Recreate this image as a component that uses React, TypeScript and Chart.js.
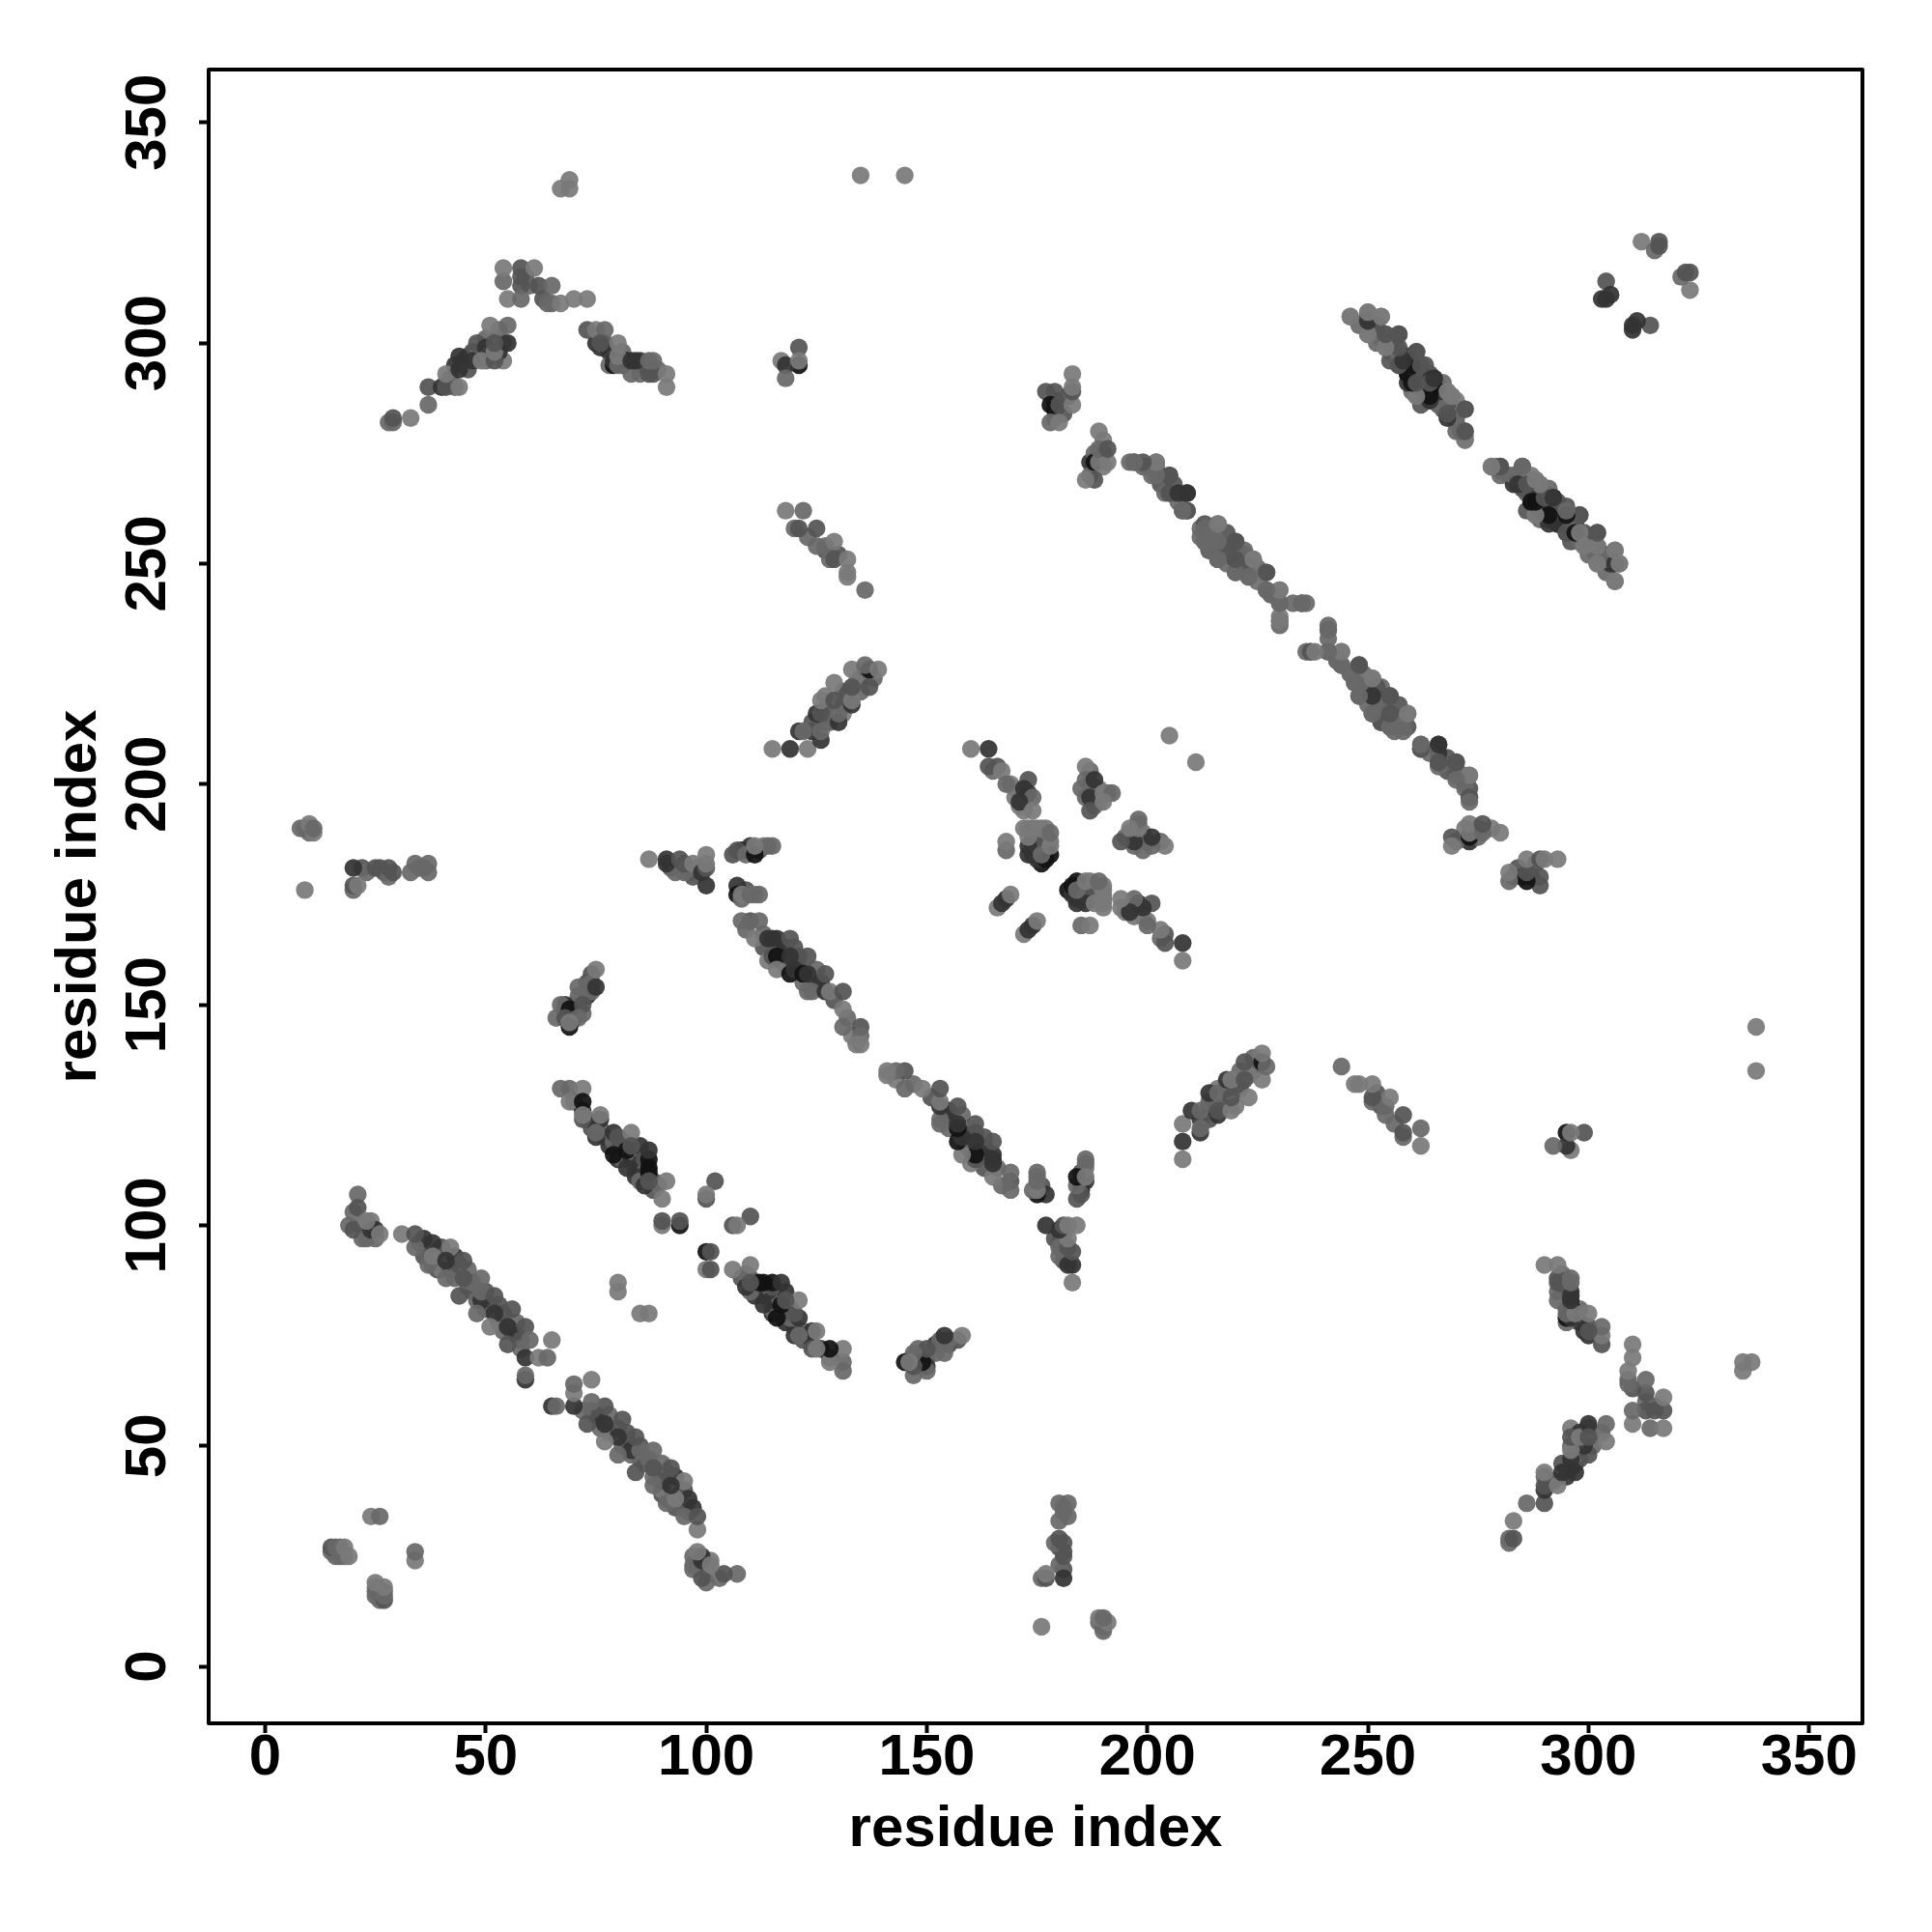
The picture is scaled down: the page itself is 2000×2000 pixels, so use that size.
import React, { useEffect, useRef } from "react";
import { Chart, registerables } from "chart.js";

Chart.register(...registerables);

// grey levels of the dots
const L = 122, M = 104, D = 84, K = 52, X = 18;

type C = [number, number, number];

const tickValues = [0, 50, 100, 150, 200, 250, 300, 350];
const axisTitle = "residue index";

// dots partly hidden underneath the visible ones
const hiddenArch: C[] = [[42,292,D],[43,290,M],[43,295,K],[45,296,K],[46,294,D],[46,297,K],[47,298,D],[48,297,M],[50,296,M],[50,301,M],[53,303,M],[54,300,M],[54,296,L],[53,298,K],[59,315,D],[60,313,M],[63,310,D],[65,309,M],
  [75,300,K],[77,300,D],[78,298,K],[81,298,M],[78,295,M],[81,295,D],[82,296,X],[85,296,K],[85,293,M],[86,295,D],[89,294,M]];
const hiddenStripe118: C[] = [[123,256,M],[127,253,D],[127,254,M],[130,252,D]];
const hiddenSpots: C[] = [[179,283,M],[179,287,K],[181,284,D],[179,285,K],[182,288,D],[187,273,K],[190,275,D],[190,278,L],[187,270,M],[188,275,M],[190,272,L],
  [17,27,M],[16,25,M],[18,25,L],[15,26,M],[17,26,D],
  [22,181,D],[23,180,M],[26,181,D],[27,180,D],[35,181,M],[36,181,M],[9,190,L],[10,189,M],[10,190,D],
  [70,150,M],[73,152,K],[73,155,D],[74,157,D],[74,153,M],[70,147,K],[69,148,D],[72,148,M],[74,155,M]];
const hiddenLong: C[] = [[212,256,M],[214,257,M],[214,253,D],[218,253,M],[218,257,D],[218,250,M],[222,249,M],[222,252,D],[225,246,M],[228,243,M],[250,222,D],[253,218,D],[253,222,M],[257,215,M],[253,214,M],[259,213,D],[203,268,D],[207,264,M],[200,272,M],[199,272,M],[243,228,M],[249,225,M],[246,225,L],[268,206,D],[272,202,M]];
const hidden246: C[] = [[251,304,M],[252,300,M],[255,300,L],[255,298,M],[256,300,D],[258,296,K],[259,293,K],[259,297,D],[260,289,M],[260,296,M],[262,293,D],[262,289,K],[263,291,K],[263,295,D],[264,293,D],[266,286,M],[266,288,K],[267,285,D],[266,290,L],[267,291,M],[270,283,M],[270,287,L],
  [286,266,M],[286,262,D],[289,266,K],[290,262,K],[290,265,X],[293,262,K],[293,259,X],[294,261,D],[296,255,D],[297,259,K],[297,257,M],[300,255,D],[301,253,M],[304,252,D],[304,248,M],[282,270,M]];
const hiddenRows: C[] = [[92,181,D],[93,180,M],[96,180,M],[97,179,D],[98,181,M],[109,185,D],[108,185,X],[110,186,K],[112,185,D],[113,186,L],[114,186,M],[109,176,D],[111,175,L],
  [113,163,D],[114,160,L],[117,163,M],[117,160,K],[118,163,K],[118,159,M],[120,163,D],[120,160,M],[121,158,K],[121,161,D],[122,155,M],[125,155,D],[125,158,M],[126,155,K],[129,151,D],[132,147,M],[133,143,L],[110,169,D],[109,167,M],[113,166,M]];
const hiddenStripe68: C[] = [[70,128,M],[72,126,K],[73,124,M],[74,122,D],[75,123,K],[76,122,M],[77,120,D],[78,118,K],[79,119,M],[80,117,D],[80,115,K],[81,119,D],[81,115,M],[83,115,K],[84,113,D],[84,116,M],[85,114,K],[85,118,K],[86,112,M],[86,115,D],[87,115,X],[88,110,D],[84,111,K],[85,110,M],[88,108,D],[89,109,M]];
const hiddenStripe20: C[] = [[22,100,D],[22,97,M],[24,101,L],[25,97,M],[20,103,M],[21,101,L],
  [35,96,M],[36,93,D],[36,97,K],[38,91,M],[39,94,M],[39,90,D],[40,95,D],[40,90,L],[42,90,D],[43,93,K],[43,88,M],[44,91,D],[46,86,M],[46,90,M],[47,85,D],[47,87,M],[48,83,M],[50,81,M],[50,85,D],[51,82,D],[53,78,M],[53,82,D],[54,80,D],[54,76,M],[56,76,D],[57,78,M],[57,75,K],[58,74,D],[58,72,M]];
const hiddenHairpin: C[] = [[124,212,K],[124,214,D],[127,214,K],[127,217,D],[128,214,M],[131,218,D],[131,221,M],[127,220,L],[131,216,L],[132,221,D],[135,224,D],[135,221,M],[134,223,L],[138,224,M]];
const hiddenCenter: C[] = [[172,190,L],[174,190,M],[175,190,L],[177,188,M],[176,187,K],[174,186,X],[177,186,D],[174,184,K],[176,182,X],[174,188,L],[175,188,M],[176,186,M],[178,187,L],[177,190,L],
  [170,199,M],[170,197,L],[172,194,L],[172,196,M],[173,198,K],[169,200,L],[166,204,D],[165,203,M],[187,200,D],[187,203,M],[188,197,M],[189,199,L],[189,196,L],[191,198,M],[188,195,M],[185,199,M]];

const topSpots: C[] = [[69,337,L],[67,335,L],[69,335,L],[135,338,L],[145,338,L],[205,211,L]];
const arch: C[] = [
  [28,282,M],[29,282,M],[29,283,D],[33,283,L],[37,286,M],[37,290,D],[40,290,K],[41,290,D],[44,290,L],[41,293,L],
  [44,294,K],[44,297,K],[47,296,K],[48,300,D],[50,299,K],[49,296,L],[52,296,D],[52,298,L],[55,300,K],[52,300,D],[51,304,L],[55,304,M],
  [54,314,M],[54,317,L],[58,313,D],[58,315,D],[58,317,D],[61,317,L],[55,310,L],[58,310,M],[62,313,D],[65,313,M],[64,309,M],[67,309,L],[70,310,L],[73,310,L],
];
const archRight: C[] = [
  [73,303,D],[75,303,L],[77,303,M],[76,299,K],[76,300,D],[80,300,L],[79,295,X],[79,296,K],[80,295,M],[80,297,L],[83,293,M],[83,296,K],[84,296,K],[87,293,D],[88,293,D],[87,296,M],[88,296,M],[91,293,L],[91,290,L],
];
const spot118: C[] = [[121,295,X],[117,296,L],[118,295,K],[118,292,M],[121,299,D],[121,296,L]];
const stripe118: C[] = [[118,262,L],[122,262,M],[120,258,M],[121,258,D],[125,258,D],[125,254,M],[129,255,L],[128,251,M],[129,251,D],[132,251,L],[132,248,L],[132,247,L],[136,244,M]];
const spot178: C[] = [[177,289,D],[179,289,D],[178,286,X],[180,286,D],[178,282,M],[180,282,L],[183,286,L],[183,289,D],[183,290,L],[183,293,L]];
const spot189: C[] = [[188,273,X],[188,269,D],[186,269,L],[189,273,L],[191,273,L],[189,276,M],[189,280,L],[191,276,D]];
const longUpper: C[] = [
  [197,273,D],[196,273,M],[202,273,L],[201,270,M],[205,270,D],[204,266,M],[205,266,D],[209,266,K],[208,262,D],[209,262,M],
  [212,258,M],[213,255,M],[216,255,D],[216,259,L],[216,251,M],[220,255,D],[220,251,K],[220,248,M],[223,247,M],[224,251,L],[227,248,D],[227,244,M],[230,244,L],[230,241,M],[235,241,M],[236,241,M],[230,237,D],[230,238,L],
  [241,235,M],[241,233,M],[241,230,M],[236,230,M],[237,230,L],[244,230,L],[244,227,M],[248,227,D],[247,223,M],[251,224,L],[248,220,M],[251,220,D],[255,220,D],
  [251,216,M],[255,216,M],[255,213,M],[258,213,M],[259,216,L],[262,209,D],[262,208,M],[266,209,K],[266,205,D],[266,207,K],[270,205,D],[270,202,M],[273,202,L],[273,199,D],[273,197,M],
];
const stripe246a: C[] = [
  [246,306,L],[250,306,K],[250,307,L],[253,306,L],[250,302,L],[254,302,L],[257,302,D],[254,299,L],[257,295,D],[257,297,X],[257,298,L],[261,298,D],[261,295,X],[262,295,M],
  [259,291,K],[261,291,X],[261,288,L],[264,287,X],[264,288,X],[265,290,D],[265,292,K],[268,289,L],[268,284,K],[268,286,D],[269,288,L],[272,285,M],[270,280,M],[272,280,D],[272,278,L],
];
const stripe246b: C[] = [
  [278,272,L],[279,272,L],[280,271,M],[280,272,D],[285,272,D],[283,268,K],[284,268,D],[288,269,L],[289,268,L],[287,264,K],[288,264,X],[291,264,D],[292,265,K],[288,261,L],[291,260,X],[291,261,D],[295,260,X],[295,262,D],[298,261,D],
  [295,257,D],[296,258,K],[299,257,D],[302,257,D],[299,254,L],[302,254,D],[302,250,L],[305,250,K],[306,253,L],[307,250,L],[306,246,L],
];
const corner304: C[] = [[303,310,K],[304,310,K],[304,314,D],[305,311,K],[312,323,L],[315,321,M],[316,322,D],[316,323,D]];
const spot9: C[] = [[8,190,M],[10,191,L],[11,189,L],[11,190,M],[9,176,L],[20,181,K],[20,176,M],[20,177,D],[21,177,L],[25,181,D],[28,179,M],[28,181,D],[29,180,D],[33,180,M],[34,182,M],[37,180,M],[37,182,M]];
const row87: C[] = [[87,183,L],[91,182,K],[91,183,K],[94,183,D],[95,180,M],[95,182,D],[97,182,L],[99,180,K],[100,177,K],[100,181,D],[100,182,L],[100,184,L],[106,184,D],[107,185,D],[109,184,M],[111,184,X],[111,186,L],[115,186,M]];
const row107: C[] = [
  [107,177,K],[107,175,X],[108,174,M],[108,175,L],[110,175,M],[112,175,M],[108,169,M],[112,169,M],[111,165,L],[114,165,K],[115,165,K],[116,165,K],[119,165,D],
  [115,161,D],[116,161,X],[119,161,K],[123,161,D],[116,158,L],[119,157,X],[120,158,K],[122,157,X],[123,157,K],[127,157,D],[123,153,M],[124,153,M],[127,153,K],[128,153,L],[131,153,D],[131,149,L],[131,145,M],[135,145,D],[135,143,M],[134,141,L],[135,141,L],
];
const spot75: C[] = [[75,154,K],[75,158,L],[71,154,M],[71,152,M],[68,150,K],[67,150,M],[69,149,X],[72,150,D],[66,147,M],[68,147,D],[71,147,M],[69,145,X],[69,146,L]];
const stripe68: C[] = [
  [67,131,M],[69,131,M],[72,131,L],[69,128,L],[72,128,X],[72,124,D],[72,125,L],[76,124,K],[76,125,L],[75,120,K],[75,121,M],[79,116,X],[79,121,K],[80,120,D],[83,121,L],[82,113,K],[82,117,X],[83,118,D],
  [87,117,K],[87,113,X],[87,112,X],[86,109,K],[87,110,D],[91,110,L],[90,106,L],[102,110,D],[100,106,D],[100,107,L],[90,100,L],[90,101,D],[94,100,X],[94,101,D],
];
const spot80: C[] = [[80,85,L],[80,87,L]];
const stripe20: C[] = [
  [21,107,M],[21,104,D],[19,100,M],[20,99,D],[23,97,M],[24,99,K],[25,99,K],[23,101,L],[26,98,L],
  [31,98,L],[34,95,M],[34,98,D],[38,96,K],[37,91,M],[38,93,L],[42,95,L],[41,92,K],[41,88,M],[45,92,D],[45,88,D],[49,88,M],[44,84,D],[49,83,K],[49,85,M],[52,84,D],
  [48,80,M],[52,80,K],[56,81,D],[51,77,L],[55,77,K],[59,77,D],[55,73,D],[60,74,M],[59,70,K],[65,74,L],[62,70,L],[64,70,M],[59,65,K],[59,66,M],
];
const spot16: C[] = [[15,27,D],[16,27,M],[17,25,M],[18,27,L],[19,25,L],[24,34,L],[26,34,M]];
const hairpin116: C[] = [
  [115,208,L],[119,208,K],[123,208,L],[121,212,K],[122,212,M],[126,210,K],[126,212,M],[125,216,K],[126,216,D],[130,214,K],[130,216,M],[126,219,L],[129,219,D],[133,218,K],[133,219,L],[129,223,L],[133,222,D],[137,222,D],[133,226,L],[137,226,X],[136,227,M],[139,226,L],
];
const center: C[] = [
  [160,208,L],[164,208,K],[164,204,D],[167,203,L],[168,200,M],[173,201,D],[172,199,K],[174,197,M],[171,195,L],[171,196,K],[174,194,L],
  [186,204,L],[186,201,M],[188,201,K],[186,197,M],[187,197,K],[187,194,D],[190,198,L],[192,198,M],[190,196,L],[168,185,M],[168,187,L],
  [173,184,K],[175,183,K],[177,183,X],[178,184,X],[175,186,D],[173,186,K],[176,184,M],[173,188,L],[173,190,L],[176,190,L],[178,186,L],[178,189,M],
  [166,172,L],[167,173,K],[168,174,K],[169,175,L],
];

const allContacts: C[] = [
  ...hiddenArch, ...hiddenStripe118, ...hiddenSpots, ...hiddenLong, ...hidden246, ...hiddenRows, ...hiddenStripe68, ...hiddenStripe20, ...hiddenHairpin, ...hiddenCenter,
  ...topSpots, ...arch, ...archRight, ...spot118, ...stripe118, ...spot178, ...spot189, ...longUpper, ...stripe246a, ...stripe246b, ...corner304,
  ...spot9, ...row87, ...row107, ...spot75, ...stripe68, ...spot80, ...stripe20, ...spot16, ...hairpin116, ...center,
];

const rowsOfPoints = [...allContacts.map(([x, y, g]) => ({ x, y, g })), ...allContacts.map(([x, y, g]) => ({ x: y, y: x, g }))];

export default function App() {
  const ref = useRef<HTMLCanvasElement>(null);
  useEffect(() => {
    document.body.style.margin = "0";
    const font = { family: "'Liberation Sans', Arial, sans-serif", weight: "bold" as const, size: 60 };
    const frame = {
      id: "frame",
      afterDatasetsDraw(chart: any) {
        const { ctx, chartArea: a } = chart;
        ctx.save();
        ctx.strokeStyle = "#000";
        ctx.lineWidth = 4;
        ctx.lineJoin = "round";
        ctx.strokeRect(a.left, a.top, a.right - a.left, a.bottom - a.top);
        ctx.restore();
      },
    };
    const setTicks = (s: any) => { s.ticks = tickValues.map((value) => ({ value })); };
    const chart = new Chart(ref.current!, {
      type: "scatter",
      data: {
        datasets: [{
          data: rowsOfPoints,
          pointRadius: 9.2,
          pointHoverRadius: 9.2,
          borderWidth: 0,
          pointBorderWidth: 0,
          backgroundColor: rowsOfPoints.map((p) => `rgba(${p.g},${p.g},${p.g},0.93)`),
        }],
      },
      options: {
        animation: false,
        responsive: false,
        devicePixelRatio: 1,
        layout: { padding: { top: 72, right: 72, left: 0, bottom: 0 } },
        plugins: { legend: { display: false }, tooltip: { enabled: false }, title: { display: false } },
        scales: {
          x: {
            type: "linear", min: -12.8, max: 362.1,
            afterBuildTicks: setTicks,
            afterFit: (s: any) => { s.height = 216; },
            border: { display: false },
            grid: { drawOnChartArea: false, drawTicks: true, tickLength: 10, tickWidth: 4, tickColor: "#000" },
            ticks: { color: "#000", font, padding: -10, maxRotation: 0, minRotation: 0, autoSkip: false, callback: (v: any) => String(v) },
            title: { display: true, text: axisTitle, color: "#000", font, padding: { top: 0, bottom: 70 } },
          },
          y: {
            type: "linear", min: -12.9, max: 362,
            afterBuildTicks: setTicks,
            afterFit: (s: any) => { s.width = 216; },
            border: { display: false },
            grid: { drawOnChartArea: false, drawTicks: true, tickLength: 10, tickWidth: 4, tickColor: "#000" },
            ticks: { color: "#000", font, padding: 1, minRotation: 90, maxRotation: 90, autoSkip: false, crossAlign: "center", callback: (v: any) => String(v) },
            title: { display: true, text: axisTitle, color: "#000", font, padding: { top: 46, bottom: 0 } },
          },
        },
      },
      plugins: [frame],
    } as any);
    return () => chart.destroy();
  }, []);
  return <canvas ref={ref} width={2000} height={2000} style={{ display: "block", width: 2000, height: 2000 }} />;
}
